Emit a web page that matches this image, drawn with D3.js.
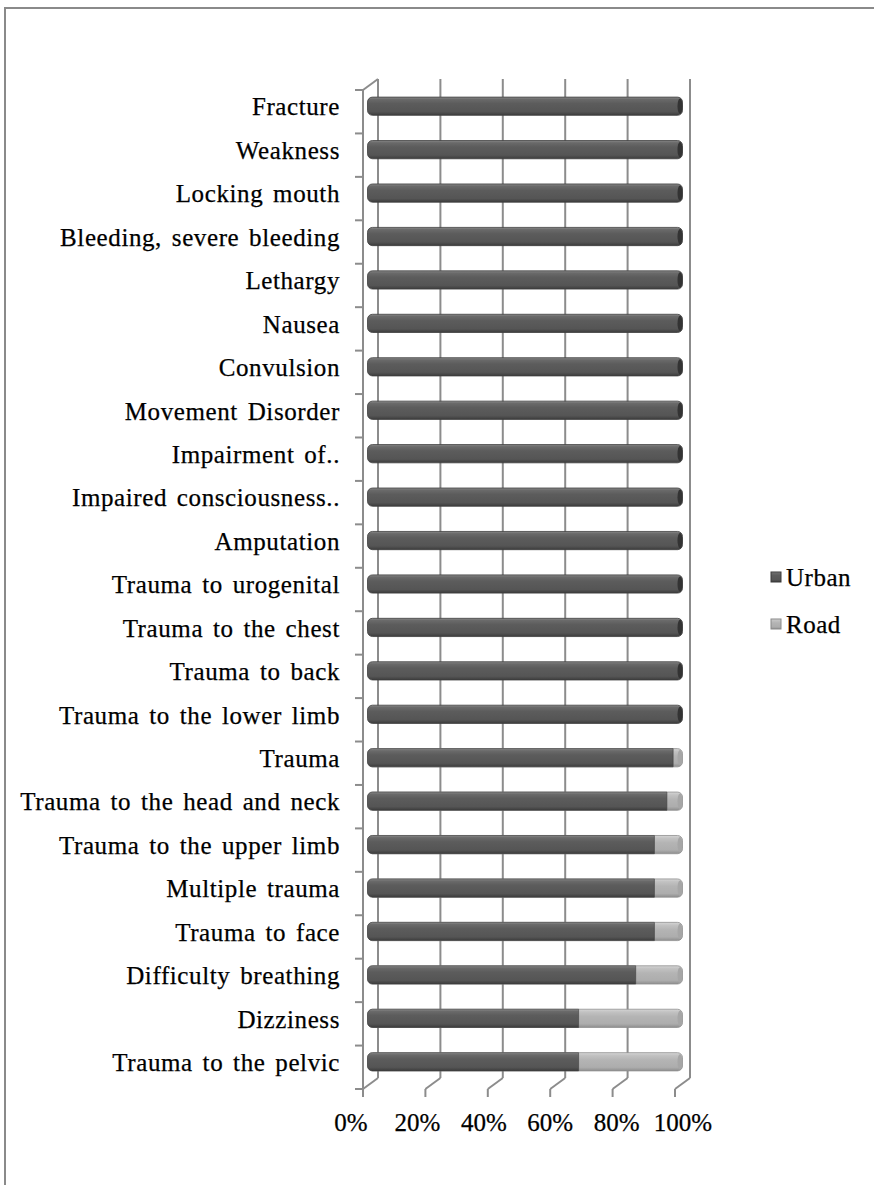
<!DOCTYPE html>
<html><head><meta charset="utf-8">
<script src="https://cdn.jsdelivr.net/npm/d3@7"></script>
<style>
body{margin:0;background:#fff}
svg{display:block}
text{font-family:"Liberation Serif","Times New Roman",serif;fill:#000}
</style>
</head><body>
<svg id="chart" width="874" height="1185"></svg>
<script>
// ---------- data (top to bottom as displayed) ----------
const categories = [
  "Fracture","Weakness","Locking mouth","Bleeding, severe bleeding","Lethargy",
  "Nausea","Convulsion","Movement Disorder","Impairment of..","Impaired consciousness..",
  "Amputation","Trauma to urogenital","Trauma to the chest","Trauma to back",
  "Trauma to the lower limb","Trauma","Trauma to the head and neck",
  "Trauma to the upper limb","Multiple trauma","Trauma to face",
  "Difficulty breathing","Dizziness","Trauma to the pelvic"
];
const urban = [100,100,100,100,100,100,100,100,100,100,100,100,100,100,100,97,95,91,91,91,85,66.7,66.7];
const road  = [0,0,0,0,0,0,0,0,0,0,0,0,0,0,0,3,5,9,9,9,15,33.3,33.3];
const xTicks = [0,20,40,60,80,100];
const xTickLabels = ["0%","20%","40%","60%","80%","100%"];
const seriesNames = ["Urban","Road"];

// ---------- layout ----------
const svg = d3.select("#chart");
const W = 874, H = 1185;
const front = {x0:363, x1:675, y0:90, y1:1089};
const depth = {dx:15, dy:-11};

const x = d3.scaleLinear().domain([0,100]).range([front.x0, front.x1]);
const y = d3.scaleBand().domain(categories).range([front.y0, front.y1]).padding(0);
const barH = y.bandwidth()*0.42;
const midDx = depth.dx/2, midDy = depth.dy/2;

const grid = "#8c8c8c";

// outer frame
svg.append("rect").attr("x",5).attr("y",8).attr("width",W).attr("height",H)
  .attr("fill","none").attr("stroke","#8a8a8a").attr("stroke-width",2);

// gradients
const defs = svg.append("defs");
function grad(id, stops){
  const g = defs.append("linearGradient").attr("id",id)
    .attr("x1",0).attr("y1",0).attr("x2",0).attr("y2",1);
  stops.forEach(s=>g.append("stop").attr("offset",s[0]).attr("stop-color",s[1]));
}
grad("gUrban",[[0,"#8a8a8a"],[0.12,"#6a6a6a"],[0.35,"#5c5c5c"],[0.8,"#555"],[1,"#3c3c3c"]]);
grad("gRoad",[[0,"#d6d6d6"],[0.15,"#c2c2c2"],[0.4,"#b4b4b4"],[0.8,"#adadad"],[1,"#8e8e8e"]]);

// back wall gridlines
const gGrid = svg.append("g");
gGrid.selectAll("line.back").data(xTicks).join("line")
  .attr("x1",d=>x(d)+depth.dx).attr("x2",d=>x(d)+depth.dx)
  .attr("y1",front.y0+depth.dy).attr("y2",front.y1+depth.dy)
  .attr("stroke",grid).attr("stroke-width",2);
// floor diagonals
gGrid.selectAll("line.floor").data(xTicks).join("line")
  .attr("x1",d=>x(d)).attr("y1",front.y1)
  .attr("x2",d=>x(d)+depth.dx).attr("y2",front.y1+depth.dy)
  .attr("stroke",grid).attr("stroke-width",2);
// x ticks
gGrid.selectAll("line.xt").data(xTicks).join("line")
  .attr("x1",d=>x(d)).attr("x2",d=>x(d))
  .attr("y1",front.y1).attr("y2",front.y1+8)
  .attr("stroke",grid).attr("stroke-width",2);
// left side wall: front axis line + top diagonal
gGrid.append("line").attr("x1",front.x0).attr("x2",front.x0)
  .attr("y1",front.y0).attr("y2",front.y1).attr("stroke",grid).attr("stroke-width",2);
gGrid.append("line").attr("x1",front.x0).attr("y1",front.y0)
  .attr("x2",front.x0+depth.dx).attr("y2",front.y0+depth.dy).attr("stroke",grid).attr("stroke-width",2);
// category ticks
const yBounds = categories.map(c=>y(c)).concat([front.y1]);
gGrid.selectAll("line.yt").data(yBounds).join("line")
  .attr("x1",front.x0-8).attr("x2",front.x0)
  .attr("y1",d=>d).attr("y2",d=>d)
  .attr("stroke",grid).attr("stroke-width",2);

// bars
const rows = categories.map((c,i)=>({c, u:urban[i], r:road[i]}));
const gBars = svg.append("g");
const r = 5;
const bar = gBars.selectAll("g.bar").data(rows).join("g").attr("class","bar")
  .attr("transform",d=>`translate(${midDx},${y(d.c)+y.bandwidth()/2-barH/2+midDy})`);
bar.append("rect")
  .attr("x",x(0)-3).attr("y",0)
  .attr("width",d=>x(d.u+d.r)-x(0)+3).attr("height",barH)
  .attr("rx",r).attr("ry",r)
  .attr("fill",d=>d.r>0?"url(#gRoad)":"url(#gUrban)")
  .attr("stroke",d=>d.r>0?"#8f8f8f":"#3f3f3f").attr("stroke-width",0.8);
bar.filter(d=>d.r>0).append("path")
  .attr("d",d=>{
    const a=x(0)-3, b=x(d.u);
    return `M${a+r},0 H${b} V${barH} H${a+r} A${r},${r} 0 0 1 ${a},${barH-r} V${r} A${r},${r} 0 0 1 ${a+r},0Z`;
  })
  .attr("fill","url(#gUrban)").attr("stroke","#3f3f3f").attr("stroke-width",0.6);
bar.append("ellipse")
  .attr("cx",d=>x(d.u+d.r)-2.5).attr("cy",barH/2)
  .attr("rx",2.5).attr("ry",barH/2-1.5)
  .attr("fill",d=>d.r>0?"#a6a6a6":"#333");

// category labels
svg.append("g").selectAll("text").data(categories).join("text")
  .attr("x",340).attr("y",d=>y(d)+y.bandwidth()/2-5)
  .attr("dy","0.35em").attr("text-anchor","end")
  .attr("font-size",25).attr("letter-spacing",0.6).attr("word-spacing",3)
  .attr("stroke","#000").attr("stroke-width",0.25)
  .text(d=>d);

// x tick labels
svg.append("g").selectAll("text").data(xTicks).join("text")
  .attr("x",(d,i)=>x(d)-12+ i*4).attr("y",front.y1+42)
  .attr("text-anchor","middle").attr("font-size",25)
  .attr("stroke","#000").attr("stroke-width",0.25)
  .text((d,i)=>xTickLabels[i]);

// legend
const legColors = ["url(#gUrban)","url(#gRoad)"];
const legStroke = ["#3a3a3a","#8a8a8a"];
const leg = svg.append("g").selectAll("g").data(seriesNames).join("g")
  .attr("transform",(d,i)=>`translate(771,${577+i*47})`);
leg.append("rect").attr("x",0).attr("y",-5).attr("width",10).attr("height",10)
  .attr("fill",(d,i)=>legColors[i]).attr("stroke",(d,i)=>legStroke[i]).attr("stroke-width",1);
leg.append("text").attr("x",15).attr("y",0).attr("dy","0.35em")
  .attr("font-size",25).attr("letter-spacing",0.5)
  .attr("stroke","#000").attr("stroke-width",0.25)
  .text(d=>d);
</script>
</body></html>
